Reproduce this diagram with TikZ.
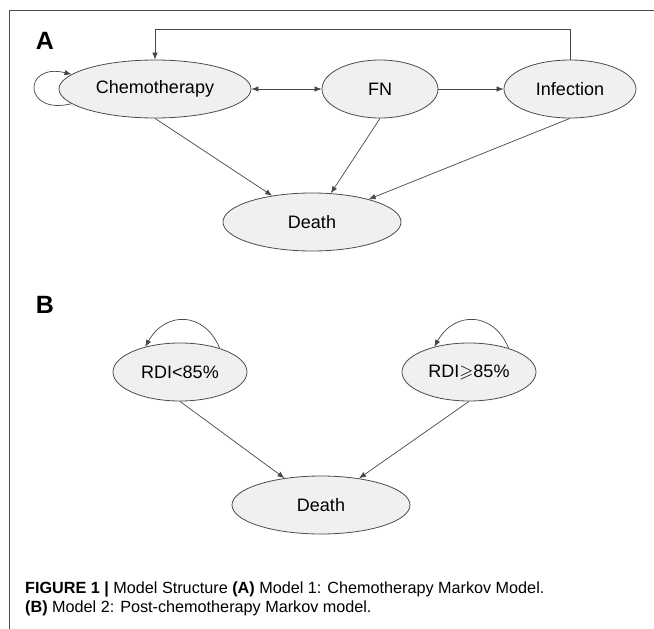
\documentclass[tikz,border=0pt]{standalone}
\usepackage{amssymb}
\usepackage{fontspec}
\setmainfont{Liberation Sans}
\usetikzlibrary{shapes.geometric,arrows.meta}
\begin{document}
\begin{tikzpicture}[>={Latex[length=7pt,width=5.5pt]},x=1pt,y=-1pt,
		state/.style={ellipse,draw=black!70,fill=black!6,line width=0.8pt,minimum height=58pt,inner sep=0pt,font=\fontsize{18}{20}\selectfont},
		link/.style={->,draw=black!72,line width=0.7pt},
		panel/.style={font=\bfseries\fontsize{25}{28}\selectfont},
		caption/.style={anchor=base west,inner sep=0pt,font=\fontsize{16.2}{19}\selectfont}]
	\useasboundingbox (0,0) rectangle (654,629);
	\draw[black!70,line width=0.8pt] (9.5,629) -- (9.5,10.5) -- (654,10.5);
	% Model 1
	\node[panel] (lblA) at (45,41) {A};
	\node[state,minimum width=192pt] (chemo) at (155,89) {Chemotherapy};
	\node[state,minimum width=116pt] (fn) at (380,89) {FN};
	\node[state,minimum width=132pt] (inf) at (570,89) {Infection};
	\node[state,minimum width=178pt] (deathA) at (312,222) {Death};
	\draw[link] (chemo.190) .. controls +(-49,12) and +(-49,-12) .. (chemo.170);
	\draw[link,<->] (chemo) -- (fn);
	\draw[link] (fn) -- (inf);
	\draw[link] (inf.north) -- ++(0,-30) -| (chemo.north);
	\draw[link] (chemo.south) -- (deathA);
	\draw[link] (fn.south) -- (deathA);
	\draw[link] (inf.south) -- (deathA);
	% Model 2
	\node[panel] (lblB) at (45,305) {B};
	\node[state,minimum width=134pt] (rlow) at (180,372) {RDI<85\%};
	\node[state,minimum width=134pt] (rhigh) at (469,372) {RDI$\geqslant$85\%};
	\node[state,minimum width=178pt] (deathB) at (321,505) {Death};
	\draw[link] (rlow.31) .. controls +(-15,-37) and +(20,-36) .. (rlow.144);
	\draw[link] (rhigh.31) .. controls +(-15,-37) and +(20,-36) .. (rhigh.144);
	\draw[link] (rlow.south) -- (deathB);
	\draw[link] (rhigh.south) -- (deathB);
	% caption
	\node[caption] (capA) at (25,593) {\textbf{FIGURE 1 |} Model Structure \textbf{(A)} Model 1: Chemotherapy Markov Model.};
	\node[caption] (capB) at (25,612) {\textbf{(B)} Model 2: Post-chemotherapy Markov model.};
\end{tikzpicture}
\end{document}
